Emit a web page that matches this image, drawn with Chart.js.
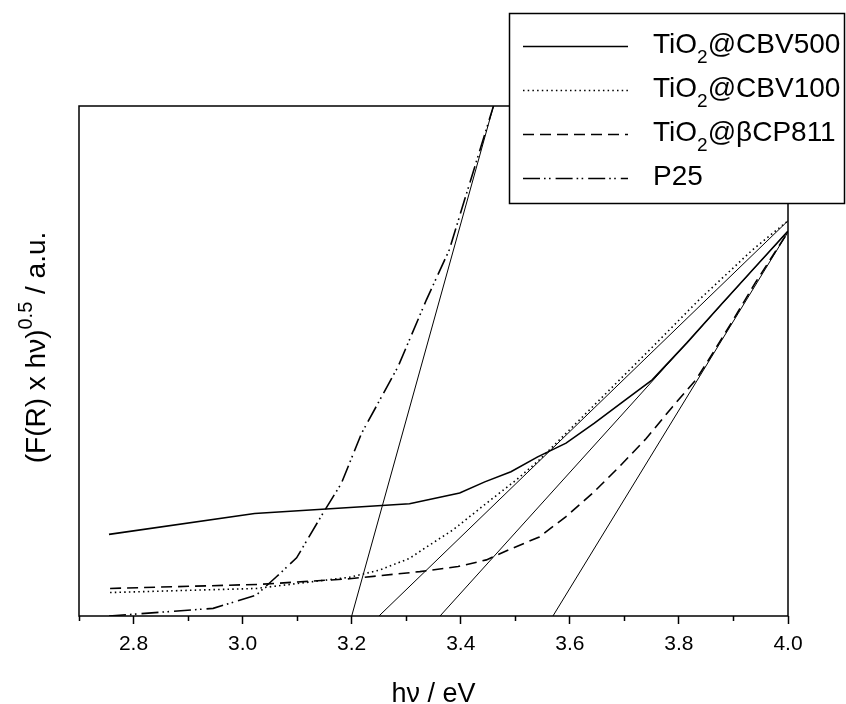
<!DOCTYPE html>
<html>
<head>
<meta charset="utf-8">
<script src="https://cdn.jsdelivr.net/npm/chart.js@4.4.1/dist/chart.umd.min.js"></script>
<style>
  html, body { margin: 0; padding: 0; background: #fff; }
  #wrap { width: 846px; height: 704px; }
</style>
</head>
<body>
<div id="wrap"><canvas id="c" width="846" height="704"></canvas></div>
<script>
// Photon energy (eV) and Kubelka-Munk transformed signal (a.u.) per sample
const energyCBV500 = [2.755, 3.022, 3.306, 3.398, 3.444, 3.492, 3.541, 3.593, 3.645, 3.697, 3.751, 3.815, 3.875, 3.937, 4.0];
const signalCBV500 = [16.0, 20.1, 22.0, 24.1, 26.3, 28.3, 31.2, 33.9, 37.8, 42.0, 46.3, 53.6, 60.8, 68.1, 75.5];

const energyCBV100 = [2.757, 3.025, 3.196, 3.251, 3.306, 3.334, 3.386, 3.447, 3.502, 3.544, 3.649, 3.752, 3.837, 3.935, 4.0];
const signalCBV100 = [4.6, 5.4, 7.6, 9.0, 11.3, 13.3, 16.9, 22.1, 26.7, 30.6, 41.8, 52.8, 62.0, 71.8, 77.5];

const energyBCP811 = [2.757, 3.031, 3.196, 3.325, 3.395, 3.447, 3.495, 3.544, 3.593, 3.642, 3.691, 3.740, 3.788, 3.831, 3.856, 3.898, 3.941, 4.0];
const signalBCP811 = [5.4, 6.2, 7.3, 8.7, 9.7, 11.0, 13.3, 15.5, 19.5, 24.1, 29.3, 34.8, 41.0, 46.3, 50.5, 57.8, 65.5, 75.3];

const energyP25 = [2.755, 2.946, 3.025, 3.062, 3.099, 3.147, 3.181, 3.218, 3.285, 3.337, 3.379, 3.407, 3.460];
const signalP25 = [0.0, 1.5, 4.1, 7.7, 11.4, 20.1, 26.0, 35.8, 48.9, 62.0, 71.8, 81.6, 100];

// Linear band-edge fits (Tauc extrapolations to the energy axis)
const fitEnergyP25 = [3.200, 3.460];
const fitSignalP25 = [0, 100];
const fitEnergyCBV100 = [3.250, 4.0];
const fitSignalCBV100 = [0, 77.5];
const fitEnergyCBV500 = [3.362, 4.0];
const fitSignalCBV500 = [0, 75.5];
const fitEnergyBCP811 = [3.569, 4.0];
const fitSignalBCP811 = [0, 75.3];

const seriesLabels = ['TiO2@CBV500', 'TiO2@CBV100', 'TiO2@\u03B2CP811', 'P25'];
const majorTicks = [2.8, 3.0, 3.2, 3.4, 3.6, 3.8, 4.0];
const minorTicks = [2.7, 2.9, 3.1, 3.3, 3.5, 3.7, 3.9];

const FONT = '"Liberation Sans", Arial, Helvetica, sans-serif';
const dashes = {
  solid: [],
  dotted: [1.5, 3.2],
  dashed: [11, 6],
  dashDotDot: [17, 4, 1.6, 3.4, 1.6, 5]
};

function toPoints(xs, ys) { return xs.map((x, i) => ({ x: x, y: ys[i] })); }

function curve(label, xs, ys, dash) {
  return {
    label: label, data: toPoints(xs, ys), borderColor: '#000', borderWidth: 1.6,
    borderDash: dash, borderCapStyle: 'butt', pointRadius: 0, tension: 0, fill: false, inLegend: true
  };
}
function fit(xs, ys) {
  return {
    label: '', data: toPoints(xs, ys), borderColor: '#000', borderWidth: 1,
    pointRadius: 0, tension: 0, fill: false, inLegend: false
  };
}

const datasets = [
  curve(seriesLabels[0], energyCBV500, signalCBV500, dashes.solid),
  curve(seriesLabels[1], energyCBV100, signalCBV100, dashes.dotted),
  curve(seriesLabels[2], energyBCP811, signalBCP811, dashes.dashed),
  curve(seriesLabels[3], energyP25, signalP25, dashes.dashDotDot),
  fit(fitEnergyP25, fitSignalP25),
  fit(fitEnergyCBV100, fitSignalCBV100),
  fit(fitEnergyCBV500, fitSignalCBV500),
  fit(fitEnergyBCP811, fitSignalBCP811)
];

// Draws "TiO2..." with the 2 as a subscript; returns the end x
function drawFormula(ctx, text, x, y, size) {
  const big = size + 'px ' + FONT;
  const small = Math.round(size * 0.68) + 'px ' + FONT;
  ctx.font = big;
  if (text.startsWith('TiO2')) {
    ctx.fillText('TiO', x, y);
    x += ctx.measureText('TiO').width;
    ctx.font = small;
    ctx.fillText('2', x, y + 10);
    x += ctx.measureText('2').width;
    ctx.font = big;
    const rest = text.slice(4);
    ctx.fillText(rest, x, y);
    x += ctx.measureText(rest).width;
  } else {
    ctx.fillText(text, x, y);
    x += ctx.measureText(text).width;
  }
  return x;
}

const decorations = {
  id: 'decorations',
  afterDatasetsDraw(chart) {
    const ctx = chart.ctx;
    const area = chart.chartArea;
    const xs = chart.scales.x;
    ctx.save();
    // frame
    ctx.strokeStyle = '#000';
    ctx.lineWidth = 1.5;
    ctx.setLineDash([]);
    ctx.strokeRect(area.left, area.top, area.right - area.left, area.bottom - area.top);
    // minor ticks
    ctx.beginPath();
    minorTicks.forEach(v => {
      const px = Math.round(xs.getPixelForValue(v)) + 0.5;
      ctx.moveTo(px, area.bottom);
      ctx.lineTo(px, area.bottom + 5);
    });
    ctx.stroke();

    ctx.fillStyle = '#000';
    // x title
    ctx.font = '27px ' + FONT;
    ctx.textAlign = 'center';
    ctx.textBaseline = 'alphabetic';
    ctx.fillText('h\u03BD / eV', (area.left + area.right) / 2, 702);

    // y title with superscript
    ctx.save();
    ctx.translate(44.5, 347.5);
    ctx.rotate(-Math.PI / 2);
    ctx.textAlign = 'left';
    const p1 = '(F(R) x h\u03BD)', p2 = '0.5', p3 = ' / a.u.';
    ctx.font = '28px ' + FONT; const w1 = ctx.measureText(p1).width; const w3 = ctx.measureText(p3).width;
    ctx.font = '20px ' + FONT; const w2 = ctx.measureText(p2).width;
    let tx = -(w1 + w2 + w3) / 2;
    ctx.font = '28px ' + FONT; ctx.fillText(p1, tx, 0); tx += w1;
    ctx.font = '20px ' + FONT; ctx.fillText(p2, tx, -12.5); tx += w2;
    ctx.font = '28px ' + FONT; ctx.fillText(p3, tx, 0);
    ctx.restore();

    // legend box
    ctx.fillStyle = '#fff';
    ctx.fillRect(509, 13, 336, 190);
    ctx.strokeStyle = '#000';
    ctx.lineWidth = 1.5;
    ctx.strokeRect(509.5, 13.5, 335, 190);
    const rows = [53, 97, 141, 185];
    const legendSets = chart.data.datasets.filter(d => d.inLegend);
    legendSets.forEach((d, i) => {
      const ly = rows[i] - 6.5;
      ctx.beginPath();
      ctx.setLineDash(d.borderDash || []);
      ctx.lineWidth = d.borderWidth;
      ctx.strokeStyle = d.borderColor;
      ctx.moveTo(523, ly);
      ctx.lineTo(628, ly);
      ctx.stroke();
      ctx.setLineDash([]);
      ctx.fillStyle = '#000';
      ctx.textAlign = 'left';
      drawFormula(ctx, d.label, 653, rows[i], 28);
    });
    ctx.restore();
  }
};

new Chart(document.getElementById('c'), {
  type: 'line',
  data: { datasets: datasets },
  options: {
    responsive: false,
    animation: false,
    devicePixelRatio: 1,
    layout: { padding: { left: 0, top: 106, right: 58, bottom: 0 } },
    plugins: { legend: { display: false }, tooltip: { enabled: false } },
    scales: {
      x: {
        type: 'linear', min: 2.7, max: 4.0,
        afterBuildTicks: s => { s.ticks = majorTicks.map(v => ({ value: v })); },
        afterFit: s => { s.height = 88; },
        ticks: {
          color: '#000', padding: 8, maxRotation: 0, autoSkip: false,
          font: { family: FONT, size: 21 },
          callback: v => Number(v).toFixed(1)
        },
        grid: { display: true, drawOnChartArea: false, drawTicks: true, tickLength: 8, tickWidth: 1.5, tickColor: '#000' },
        border: { display: false }
      },
      y: {
        type: 'linear', min: 0, max: 100,
        afterFit: s => { s.width = 79; },
        ticks: { display: false },
        grid: { display: false },
        border: { display: false }
      }
    }
  },
  plugins: [decorations]
});
</script>
</body>
</html>
